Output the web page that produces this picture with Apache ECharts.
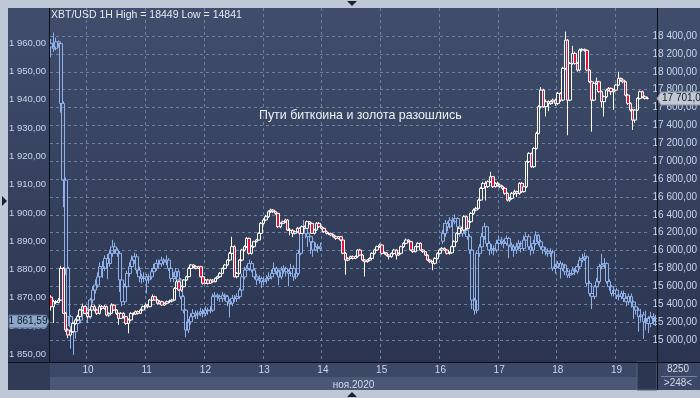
<!DOCTYPE html>
<html>
<head>
<meta charset="utf-8">
<script src="https://cdn.jsdelivr.net/npm/echarts@6.0.0/dist/echarts.min.js"></script>
<style>
  html, body { margin: 0; padding: 0; background: #bfc8d6; }
  #chart { width: 700px; height: 398px; }
</style>
</head>
<body>
<div id="chart"></div>
<script>
// XBT/USD 1H (right axis), gold 1H (left axis), 9 Nov 09:00 .. 19 Nov 16:00
const btcFirstOpen = 15480
const btcClose = [
  15373,15429,15420,15447,15801,15298,15112,15056,15093,15186,
  15224,15261,15335,15373,15298,15261,15335,15373,15335,15298,
  15373,15354,15373,15279,15298,15391,15335,15298,15242,15298,
  15261,15186,15224,15298,15290,15317,15298,15335,15373,15391,
  15373,15447,15485,15447,15410,15429,15391,15410,15429,15435,
  15447,15578,15652,15559,15596,15671,15708,15801,15839,15820,
  15801,15820,15708,15634,15671,15634,15671,15652,15690,15708,
  15745,15801,15839,15894,15969,16044,15708,15745,15894,16006,
  16044,16137,15969,16044,16100,16118,16193,16305,16342,16379,
  16435,16453,16435,16416,16267,16305,16323,16342,16230,16225,
  16193,16211,16249,16193,16267,16249,16323,16305,16193,16230,
  16305,16267,16249,16211,16193,16190,16174,16155,16137,16155,
  16118,15969,15894,15913,15932,15913,15932,16006,15950,15894,
  15876,15894,15913,15969,16006,16044,16062,15969,15975,15950,
  15932,15969,16006,15950,15969,16044,16081,16118,16100,16006,
  15988,16044,16081,16006,15988,15950,15894,15876,15857,15913,
  15969,16006,16025,16006,15969,15975,16044,16100,16193,16249,
  16230,16379,16249,16323,16416,16453,16472,16565,16696,16752,
  16715,16770,16826,16715,16752,16733,16715,16696,16640,16565,
  16584,16640,16659,16640,16752,16659,16715,16994,17087,16938,
  17143,17311,17609,17795,17609,17665,17646,17665,17683,17646,
  17758,17683,18038,18354,17683,18093,18205,18093,18019,18243,
  18250,18240,18019,17888,17683,17870,17888,17777,17665,17721,
  17795,17814,17777,17795,17851,17926,17907,17888,17739,17646,
  17572,17460,17572,17702,17777,17721,17702,17701
]
const btcHigh = [
  15500,15450,15445,15470,15830,15815,15310,15130,15110,15200,
  15240,15280,15350,15400,15385,15310,15345,15400,15390,15350,
  15390,15390,15390,15385,15310,15410,15400,15345,15305,15310,
  15310,15270,15240,15310,15310,15330,15330,15350,15385,15410,
  15400,15460,15510,15495,15460,15445,15440,15420,15440,15450,
  15460,15590,15670,15660,15610,15680,15720,15815,15850,15845,
  15835,15830,15830,15720,15680,15685,15680,15680,15700,15720,
  15760,15810,15850,15905,15985,16155,16060,15760,15905,16020,
  16060,16150,16145,16060,16110,16130,16205,16320,16360,16400,
  16450,16470,16465,16445,16425,16315,16335,16355,16350,16250,
  16240,16225,16265,16260,16280,16280,16335,16330,16315,16245,
  16320,16320,16280,16260,16225,16205,16200,16185,16170,16165,
  16165,16125,15985,15925,15945,15945,15945,16015,16020,15960,
  15905,15905,15925,15980,16020,16055,16080,16070,15990,15985,
  15960,15980,16020,16015,15980,16055,16095,16135,16125,16110,
  16020,16055,16095,16090,16015,15995,15960,15905,15885,15925,
  15980,16020,16040,16035,16015,15990,16055,16115,16205,16260,
  16265,16395,16390,16335,16430,16470,16490,16580,16710,16770,
  16775,16785,16880,16835,16765,16770,16750,16730,16710,16650,
  16600,16655,16680,16670,16765,16765,16730,17005,17100,17095,
  17160,17330,17625,17830,17810,17690,17680,17680,17700,17700,
  17775,17770,18055,18449,18365,18110,18290,18225,18110,18260,
  18265,18260,18250,18030,17900,17885,17935,17900,17790,17735,
  17810,17830,17825,17810,17865,18000,17935,17920,17900,17755,
  17660,17585,17585,17715,17790,17790,17735,17720
]
const btcLow = [
  15330,15190,15400,15410,15440,15290,15090,15020,15040,15080,
  15170,15210,15250,15320,15290,15240,15250,15320,15320,15280,
  15285,15335,15340,15265,15260,15290,15325,15280,15170,15235,
  15240,15170,15075,15210,15275,15280,15285,15290,15325,15360,
  15355,15365,15435,15440,15395,15400,15380,15380,15400,15415,
  15420,15440,15570,15550,15540,15590,15660,15700,15790,15800,
  15790,15795,15700,15620,15625,15620,15625,15640,15645,15680,
  15695,15735,15790,15830,15880,15955,15700,15690,15735,15880,
  15990,16030,15955,15955,16030,16090,16110,16185,16290,16330,
  16365,16420,16420,16400,16255,16250,16295,16310,16220,16170,
  16150,16180,16200,16180,16185,16240,16240,16290,16185,16180,
  16220,16255,16235,16200,16180,16175,16160,16145,16120,16125,
  16105,15960,15730,15880,15905,15900,15905,15920,15940,15880,
  15710,15865,15880,15900,15955,15995,16030,15955,15955,15935,
  15900,15920,15955,15900,15940,15955,16030,16070,16090,15995,
  15975,15980,16035,15995,15975,15940,15885,15860,15780,15845,
  15900,15955,15995,15995,15955,15955,15965,16030,16090,16180,
  16215,16220,16235,16240,16310,16400,16440,16460,16555,16680,
  16560,16700,16760,16700,16705,16715,16700,16680,16625,16550,
  16545,16570,16625,16600,16625,16645,16650,16700,16980,16925,
  16925,17130,17300,17590,17600,17500,17560,17630,17640,17620,
  17630,17665,17670,18020,17290,17670,18080,18080,18000,18005,
  18225,18225,18005,17875,17330,17670,17855,17765,17600,17500,
  17705,17780,17740,17575,17780,17840,17890,17870,17725,17630,
  17555,17350,17430,17560,17690,17705,17690,17690
]

// gold: session up to Friday 13 Nov close, then from Monday 16 Nov open
const goldFirstOpen = 1960.0
const goldCloseA = [
  1958.7,1958.1,1960.5,1959.9,1938.7,1911.6,1880.4,1863.3,1859.7,1858.0,
  1860.9,1862.1,1864.5,1866.8,1865.6,1863.3,1869.2,1872.7,1874.5,1877.4,
  1881.0,1880.4,1883.9,1882.1,1885.7,1888.0,1886.9,1885.7,1876.3,1868.6,
  1873.9,1878.6,1881.0,1883.3,1884.5,1879.8,1877.4,1876.8,1877.4,1876.3,
  1877.4,1879.2,1880.4,1882.1,1882.0,1883.3,1882.7,1883.3,1880.4,1876.8,
  1877.4,1879.2,1876.3,1870.4,1865.6,1858.6,1861.5,1863.3,1864.5,1863.9,
  1864.5,1865.1,1864.5,1865.6,1865.4,1865.6,1870.4,1870.9,1870.4,1869.8,
  1870.9,1870.4,1868.6,1868.0,1869.8,1869.7,1870.4,1872.7,1877.4,1879.8,
  1880.4,1882.1,1879.8,1877.4,1876.3,1876.8,1875.7,1876.3,1876.8,1877.4,
  1878.6,1880.4,1879.2,1877.4,1879.8,1880.4,1879.2,1878.6,1880.4,1877.4,
  1878.6,1885.7,1893.9,1895.1,1892.7,1891.6,1889.8,1886.9,1888.0,1887.4,1888.0
]
const goldHighA = [
  1961.5,1963.8,1962.0,1961.0,1960.5,1939.5,1912.5,1881.0,1864.0,1861.5,
  1862.0,1864.0,1866.0,1868.0,1867.5,1866.5,1870.0,1874.0,1876.5,1879.0,
  1882.5,1883.0,1885.0,1885.5,1887.0,1890.5,1889.5,1887.5,1886.5,1877.0,
  1875.0,1879.5,1882.5,1885.0,1886.0,1885.5,1881.0,1878.5,1879.0,1878.5,
  1878.5,1880.5,1882.0,1883.5,1883.5,1884.5,1884.0,1885.0,1884.0,1881.0,
  1879.0,1880.5,1880.0,1877.0,1871.0,1866.0,1862.5,1864.5,1866.0,1865.5,
  1865.5,1866.5,1866.0,1867.0,1866.5,1867.0,1871.5,1872.0,1871.5,1871.0,
  1872.0,1871.5,1871.0,1869.5,1871.0,1871.0,1871.5,1873.5,1878.5,1881.0,
  1881.5,1883.5,1883.0,1880.5,1878.5,1878.0,1877.5,1877.5,1878.0,1879.0,
  1880.0,1882.5,1881.0,1880.0,1881.0,1881.5,1881.0,1880.0,1882.0,1881.5,
  1880.0,1887.0,1895.0,1897.5,1896.0,1893.5,1892.0,1889.5,1889.5,1889.0,1889.5
]
const goldLowA = [
  1955.0,1957.0,1957.5,1958.5,1935.5,1902.0,1878.0,1860.0,1852.0,1849.8,
  1855.5,1858.5,1861.0,1863.5,1864.0,1861.0,1862.5,1868.0,1871.5,1873.5,
  1876.0,1877.0,1879.5,1876.5,1881.0,1884.5,1885.5,1884.5,1872.0,1867.0,
  1867.5,1872.5,1877.5,1880.0,1882.0,1878.5,1875.5,1875.0,1875.5,1871.5,
  1875.0,1876.5,1878.0,1879.5,1880.5,1881.0,1881.5,1881.5,1879.5,1875.5,
  1875.5,1876.5,1875.0,1869.5,1864.5,1856.0,1857.5,1860.5,1862.5,1862.5,
  1862.5,1863.5,1863.0,1863.5,1864.0,1864.5,1865.0,1869.5,1869.0,1868.5,
  1868.5,1869.0,1867.0,1863.0,1867.0,1868.5,1868.5,1869.5,1872.0,1876.5,
  1878.5,1879.5,1879.0,1876.5,1874.5,1875.0,1873.5,1874.5,1875.0,1876.0,
  1876.5,1877.5,1878.0,1874.5,1876.5,1878.5,1877.5,1874.0,1877.5,1876.0,
  1876.5,1878.0,1885.0,1892.5,1891.0,1888.0,1885.5,1884.5,1886.5,1886.0,1886.5
]
const goldReopenIndex = 160
const goldReopen = 1890.0
const goldCloseB = [
  1892.7,1896.3,1895.1,1897.4,1896.9,1898.0,1895.1,1892.7,1894.5,1893.9,
  1891.6,1886.9,1869.2,1865.6,1885.7,1888.0,1891.6,1895.1,1889.2,1886.9,
  1887.4,1886.9,1889.2,1890.4,1889.8,1889.2,1891.0,1888.6,1888.0,1886.9,
  1888.0,1889.2,1887.4,1890.4,1891.6,1888.0,1886.9,1889.2,1892.1,1889.8,
  1888.0,1886.9,1886.3,1885.7,1886.3,1880.4,1881.0,1882.1,1880.4,1881.6,
  1879.2,1878.0,1878.6,1879.8,1879.2,1881.0,1883.3,1883.9,1884.5,1875.1,
  1871.5,1870.4,1873.9,1875.7,1881.0,1881.6,1882.1,1875.7,1873.9,1871.5,
  1872.7,1870.9,1870.4,1871.5,1869.8,1868.6,1870.4,1868.5,1866.8,1865.6,
  1863.3,1863.9,1861.5,1862.7,1860.9,1863.3,1862.7,1861.59
]
const goldHighB = [
  1894.0,1897.5,1897.0,1898.5,1898.5,1899.5,1898.5,1896.0,1895.5,1895.5,
  1895.0,1892.5,1887.5,1870.0,1886.5,1889.0,1893.0,1896.5,1895.5,1890.0,
  1889.0,1888.5,1890.5,1892.0,1891.5,1890.5,1892.0,1891.5,1889.5,1889.0,
  1889.5,1890.5,1890.0,1892.0,1893.0,1892.5,1889.0,1890.5,1893.5,1892.5,
  1890.5,1889.0,1888.0,1887.5,1887.5,1887.0,1882.0,1883.0,1883.0,1882.5,
  1882.0,1880.5,1880.0,1881.0,1880.5,1882.0,1884.5,1885.5,1886.0,1885.0,
  1876.0,1872.5,1874.5,1877.0,1882.0,1885.5,1884.0,1882.5,1876.5,1874.5,
  1874.0,1873.5,1872.0,1872.5,1872.5,1870.5,1871.5,1871.5,1869.0,1867.5,
  1866.5,1866.0,1865.0,1865.5,1863.5,1865.0,1864.5,1864.0
]
const goldLowB = [
  1889.0,1891.5,1893.5,1894.5,1887.0,1896.0,1894.0,1891.5,1891.5,1892.5,
  1890.5,1885.5,1866.0,1864.0,1864.5,1884.5,1887.0,1890.5,1888.0,1885.0,
  1885.5,1885.0,1886.0,1888.5,1888.5,1887.5,1888.5,1884.0,1886.5,1884.5,
  1885.5,1887.0,1886.0,1886.5,1889.5,1887.0,1885.0,1885.5,1888.5,1888.5,
  1887.0,1885.5,1885.0,1884.5,1884.5,1879.5,1878.5,1880.5,1876.8,1879.5,
  1878.0,1877.0,1877.0,1878.0,1878.0,1878.5,1880.0,1882.5,1883.0,1874.0,
  1870.5,1866.0,1869.5,1873.0,1875.0,1880.0,1880.5,1875.0,1872.5,1870.5,
  1870.5,1869.5,1869.0,1869.5,1868.5,1867.0,1867.5,1866.5,1862.5,1864.0,
  1858.0,1861.5,1855.5,1858.5,1857.5,1859.5,1860.5,1860.0
]

// hourly categories
const hours = []
for (let i = 0; i < btcClose.length; i++) {
  const d = new Date(Date.UTC(2020, 10, 9, 9 + i))
  hours.push(d.toISOString().slice(0, 13).replace('T', ' '))
}

const btcData = btcClose.map((c, i) => [i ? btcClose[i - 1] : btcFirstOpen, c, btcLow[i], btcHigh[i]])
const goldData = hours.map((h, i) => {
  if (i < goldCloseA.length) {
    return [i ? goldCloseA[i - 1] : goldFirstOpen, goldCloseA[i], goldLowA[i], goldHighA[i]]
  }
  if (i >= goldReopenIndex) {
    const j = i - goldReopenIndex
    return [j ? goldCloseB[j - 1] : goldReopen, goldCloseB[j], goldLowB[j], goldHighB[j]]
  }
  return ['-', '-', '-', '-']
})

const FONT = '"Liberation Sans", Arial, sans-serif'
const LABEL = '#c6d5ec'
const GRID_LINE = { color: '#6f7f9f', type: [3, 3], width: 1 }

function fmt (v, d) {
  const parts = v.toFixed(d === undefined ? 2 : d).split('.')
  return parts[0].replace(/\B(?=(\d{3})+(?!\d))/g, ' ') + ',' + parts[1]
}
const isMidnight = (i, v) => v.slice(11, 13) === '00'

const chart = echarts.init(document.getElementById('chart'))

const option = {
  animation: false,
  backgroundColor: '#bfc8d6',
  grid: [
    // gold scale
    { left: 50, right: 43, top: 15.03, bottom: 15.43 },
    // btc scale
    { left: 50, right: 43, top: 18.12, bottom: 40.12 },
    // visible plot frame, carries the day axis
    { left: 50, right: 43, top: 8, bottom: 36 }
  ],
  xAxis: [
    { type: 'category', gridIndex: 0, data: hours, show: false },
    { type: 'category', gridIndex: 1, data: hours, show: false },
    {
      type: 'category',
      gridIndex: 2,
      data: hours,
      axisLine: { show: false },
      axisTick: { show: false },
      axisLabel: {
        interval: isMidnight,
        formatter: v => String(+v.slice(8, 10)),
        color: LABEL,
        fontSize: 10,
        fontFamily: FONT,
        margin: 3
      },
      splitLine: { show: true, interval: isMidnight, lineStyle: GRID_LINE },
      name: 'ноя.2020',
      nameLocation: 'middle',
      nameGap: 15,
      nameTextStyle: { color: '#d3dbea', fontSize: 10, fontFamily: FONT }
    }
  ],
  yAxis: [
    {
      type: 'value',
      gridIndex: 0,
      position: 'left',
      min: 1840,
      max: 1970,
      interval: 10,
      axisLine: { show: false },
      axisTick: { show: false },
      splitLine: { show: false },
      axisLabel: {
        showMinLabel: false,
        showMaxLabel: false,
        margin: 4,
        color: LABEL,
        fontSize: 9.5,
        fontFamily: FONT,
        formatter: v => fmt(v)
      }
    },
    {
      type: 'value',
      gridIndex: 1,
      position: 'right',
      min: 14800,
      max: 18600,
      interval: 200,
      axisLine: { show: false },
      axisTick: { show: false },
      splitLine: { show: true, showMinLine: false, showMaxLine: false, lineStyle: GRID_LINE },
      axisLabel: {
        showMinLabel: false,
        showMaxLabel: false,
        margin: 4,
        color: LABEL,
        fontSize: 10,
        fontFamily: FONT,
        formatter: v => fmt(v)
      }
    },
    { type: 'value', gridIndex: 2, show: false }
  ],
  series: [
    {
      name: 'Gold',
      type: 'candlestick',
      xAxisIndex: 0,
      yAxisIndex: 0,
      barWidth: 3.5,
      data: goldData,
      itemStyle: {
        color: 'rgba(0,0,0,0)',
        color0: 'rgba(0,0,0,0)',
        borderColor: '#8fb1e8',
        borderColor0: '#8fb1e8',
        borderWidth: 1
      }
    },
    {
      name: 'XBT/USD',
      type: 'candlestick',
      xAxisIndex: 1,
      yAxisIndex: 1,
      barWidth: 3,
      data: btcData,
      itemStyle: {
        color: '#35415d',
        color0: '#e3123a',
        borderColor: '#ffffff',
        borderColor0: '#ffffff',
        borderWidth: 1
      }
    }
  ]
}

chart.setOption(option)

// chrome of the terminal window + last price tags
const lastGold = goldCloseB[goldCloseB.length - 1]
const lastBtc = btcClose[btcClose.length - 1]
const yGold = chart.convertToPixel({ yAxisIndex: 0 }, lastGold)
const yBtc = chart.convertToPixel({ yAxisIndex: 1 }, lastBtc)
const ink = '#0b0f18'

chart.setOption({
  graphic: [
    {
      type: 'rect', z: -10, silent: true,
      shape: { x: 8, y: 8, width: 692, height: 354 },
      style: {
        fill: new echarts.graphic.LinearGradient(0, 0, 0, 1, [
          { offset: 0, color: '#404e6b' },
          { offset: 1, color: '#2b3551' }
        ])
      }
    },
    { type: 'rect', z: -10, shape: { x: 8, y: 362, width: 42, height: 28 }, style: { fill: '#303b56' } },
    { type: 'rect', z: -10, shape: { x: 50, y: 362, width: 607, height: 15 }, style: { fill: '#3c4966' } },
    { type: 'rect', z: -10, shape: { x: 50, y: 377, width: 587, height: 13 }, style: { fill: '#4a5876' } },
    { type: 'rect', z: -10, shape: { x: 637, y: 362, width: 20, height: 28 }, style: { fill: '#2c3650', stroke: '#56657f', lineWidth: 1 } },
    { type: 'rect', z: -10, shape: { x: 657, y: 362, width: 43, height: 28 }, style: { fill: '#3c4966' } },
    { type: 'line', z: 5, shape: { x1: 661, y1: 376.5, x2: 697, y2: 376.5 }, style: { stroke: '#7483a0', lineWidth: 1 } },
    { type: 'line', z: 5, shape: { x1: 49.5, y1: 8, x2: 49.5, y2: 362 }, style: { stroke: ink, lineWidth: 1 } },
    { type: 'line', z: 5, shape: { x1: 657.5, y1: 8, x2: 657.5, y2: 390 }, style: { stroke: ink, lineWidth: 1 } },
    { type: 'line', z: 5, shape: { x1: 8, y1: 362.5, x2: 700, y2: 362.5 }, style: { stroke: ink, lineWidth: 1 } },
    { type: 'polygon', shape: { points: [[347, 1], [357, 1], [352, 6]] }, style: { fill: '#1b2233' } },
    { type: 'polygon', shape: { points: [[347, 397], [357, 397], [352, 392]] }, style: { fill: '#1b2233' } },
    { type: 'polygon', shape: { points: [[2, 196], [2, 206], [7, 201]] }, style: { fill: '#1b2233' } },
    {
      type: 'text', z: 5, x: 51, y: 10,
      style: { text: 'XBT/USD 1H High = 18449 Low = 14841', fill: '#e4eaf4', font: '10.5px ' + FONT, textVerticalAlign: 'top' }
    },
    {
      type: 'text', z: 5, x: 259, y: 110,
      style: { text: 'Пути биткоина и золота разошлись', fill: '#eef2f8', font: '12.4px ' + FONT, textVerticalAlign: 'top' }
    },
    {
      type: 'text', z: 5, x: 678, y: 369,
      style: { text: '8250', fill: '#d3dbea', font: '10px ' + FONT, textAlign: 'center', textVerticalAlign: 'middle' }
    },
    {
      type: 'text', z: 5, x: 678, y: 383,
      style: { text: '>248<', fill: '#d3dbea', font: '10px ' + FONT, textAlign: 'center', textVerticalAlign: 'middle' }
    },
    {
      type: 'polygon', z: 20,
      shape: { points: [[9, yGold - 6.5], [46, yGold - 6.5], [49, yGold], [46, yGold + 6.5], [9, yGold + 6.5]] },
      style: { fill: '#8ea6c8', stroke: '#5b6d8e', lineWidth: 1 }
    },
    {
      type: 'text', z: 21, x: 28, y: yGold,
      style: { text: fmt(lastGold), fill: '#0f1a2e', font: '10px ' + FONT, textAlign: 'center', textVerticalAlign: 'middle' }
    },
    {
      type: 'polygon', z: 20,
      shape: { points: [[657, yBtc], [661, yBtc - 6.5], [701, yBtc - 6.5], [701, yBtc + 6.5], [661, yBtc + 6.5]] },
      style: { fill: '#c3c9d3', stroke: '#8a94a6', lineWidth: 1 }
    },
    {
      type: 'text', z: 21, x: 662, y: yBtc,
      style: { text: fmt(lastBtc), fill: '#0f1a2e', font: '10px ' + FONT, textVerticalAlign: 'middle' }
    }
  ]
})
</script>
</body>
</html>
